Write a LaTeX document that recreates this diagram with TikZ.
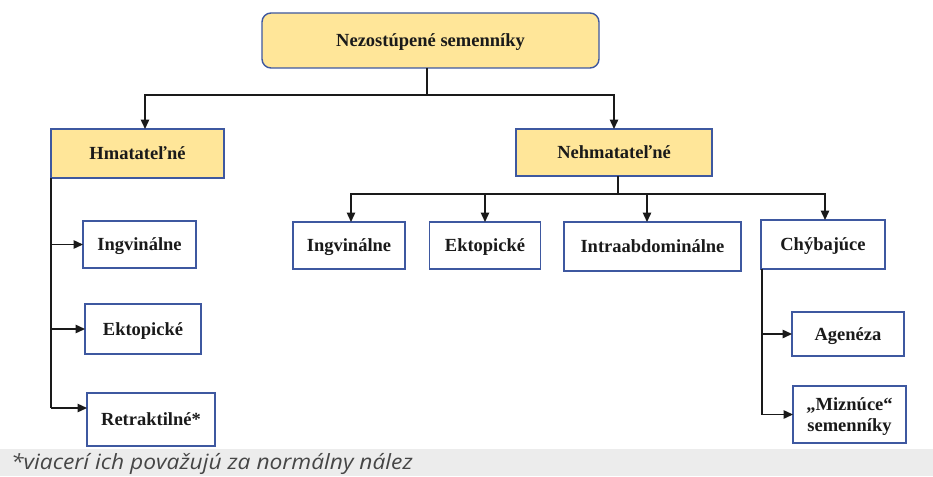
\documentclass[tikz,border=0pt]{standalone}
\usepackage{fontspec}
\setmainfont{Liberation Serif}
\newfontfamily\notefont[FakeStretch=1.085]{Open Sans}
\usetikzlibrary{arrows.meta}
\definecolor{boxblue}{RGB}{62,88,160}
\definecolor{boxyellow}{RGB}{255,230,153}
\definecolor{inkc}{RGB}{26,26,26}
\definecolor{notebg}{RGB}{236,236,236}
\definecolor{notetxt}{RGB}{70,70,70}
\tikzset{
  box/.style={draw=boxblue, line width=1.4pt, fill=white, inner sep=0pt, outer sep=0pt,
    font=\fontsize{18.5}{21}\selectfont\bfseries, text=inkc, align=center,
    text height=12.5pt, text depth=0pt},
  ybox/.style={box, fill=boxyellow},
  conn/.style={draw=inkc, line width=1.4pt},
  arr/.style={conn, -{Triangle[length=9.5pt,width=8.5pt]}},
}
\begin{document}
\begin{tikzpicture}[x=1pt,y=-1pt]
\useasboundingbox (0,0) rectangle (933,476);
% footnote band
\fill[notebg] (0,449) rectangle (933,476);
\node[anchor=base west, inner sep=0pt, text=notetxt, font=\notefont\itshape\fontsize{21}{23}\selectfont] (note) at (11,469) {*viacerí ich považujú za normálny nález};
% nodes
\node[ybox, rounded corners=9pt, minimum width=337, minimum height=55] (top) at (430.5,40.5) {Nezostúpené semenníky};
\node[ybox, minimum width=173, minimum height=49] (hm) at (137.5,153.5) {Hmatateľné};
\node[ybox, minimum width=196, minimum height=47] (nh) at (614,152.5) {Nehmatateľné};
\node[box, minimum width=112, minimum height=47] (i2) at (349,245.5) {Ingvinálne};
\node[box, minimum width=111, minimum height=47] (e2) at (485,245.5) {Ektopické};
\node[box, minimum width=177, minimum height=49] (ia) at (652.5,246.5) {Intraabdominálne};
\node[box, minimum width=124, minimum height=49] (ch) at (823,244.5) {Chýbajúce};
\node[box, minimum width=113, minimum height=47] (i1) at (139.5,244.5) {Ingvinálne};
\node[box, minimum width=116, minimum height=50] (e1) at (143,329) {Ektopické};
\node[box, minimum width=128, minimum height=53] (r1) at (151,419.5) {Retraktilné*};
\node[box, minimum width=112, minimum height=44] (ag) at (848,334) {Agenéza};
\node[box, minimum width=113, minimum height=57, text height=33.5pt] (mz) at (849.5,414.5) {„Miznúce“\\semenníky};
% top connectors
\coordinate (j1) at (427,95);
\draw[conn] (top.south -| j1) -- (j1);
\draw[arr] (j1) -| ([xshift=7.5pt]hm.north);
\draw[arr] (j1) -| (nh.north);
% Nehmatateľné connectors
\coordinate (j2) at (618,194);
\draw[conn] (nh.south -| j2) -- (j2);
\draw[arr] (j2) -| ([xshift=2pt]i2.north);
\draw[arr] (j2) -| (e2.north);
\draw[arr] (j2) -| ([xshift=-5.5pt]ia.north);
\draw[arr] (j2) -| ([xshift=2pt]ch.north);
% Hmatateľné branch
\coordinate (rA) at ([yshift=11.5pt]r1.west);
\draw[conn] (hm.south west) -- (hm.south west |- rA);
\draw[arr] (hm.south west |- i1.west) -- (i1.west);
\draw[arr] (hm.south west |- e1.west) -- (e1.west);
\draw[arr] (hm.south west |- rA) -- (rA);
% Chýbajúce branch
\coordinate (cL) at ([xshift=1pt]ch.south west);
\draw[conn] (cL) -- (cL |- mz.west);
\draw[arr] (cL |- ag.west) -- (ag.west);
\draw[arr] (cL |- mz.west) -- (mz.west);
\end{tikzpicture}
\end{document}
